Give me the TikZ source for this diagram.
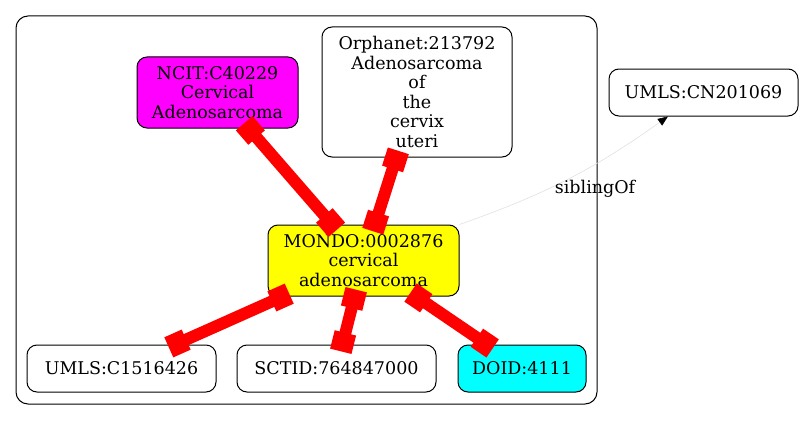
\documentclass[tikz,border=0pt]{standalone}
\usepackage{fontspec}
\setmainfont{DejaVu Serif}
\usepackage{xcolor}
\usepackage{tikz}
\usetikzlibrary{arrows.meta,positioning,calc}

\definecolor{fillmag}{RGB}{255,0,255}
\definecolor{fillyel}{RGB}{255,255,0}
\definecolor{fillcyan}{RGB}{0,255,255}
\definecolor{edgered}{RGB}{255,0,0}

\begin{document}
\begin{tikzpicture}[
    x=1pt, y=-1pt,
    term/.style={draw, line width=1pt, rounded corners=10pt, align=center, inner sep=2pt,
      font=\fontsize{17.5}{19.5}\selectfont},
    xref/.style={{Square[length=19pt,width=22pt]}-{Square[length=19pt,width=22pt]}, edgered,
      line width=12pt, shorten <=-7pt, shorten >=-7pt},
    sib/.style={-{Triangle[length=10pt,width=8pt,color=black,fill=black]}, black!12, line width=0.6pt}
  ]
    \useasboundingbox (0,0) rectangle (805,420);

    % Cluster frame
    \draw[line width=1pt, rounded corners=12pt] (16,16) rectangle (597,404);

    % Terms inside the cluster
    \node[term, fill=fillmag, minimum width=161pt, minimum height=71pt] (ncit) at (217.5,92.5)
      {NCIT:C40229\\Cervical\\Adenosarcoma};
    \node[term, minimum width=190pt, minimum height=130pt] (orph) at (417,92)
      {Orphanet:213792\\Adenosarcoma\\of\\the\\cervix\\uteri};
    \node[term, fill=fillyel, minimum width=191pt, minimum height=71pt] (mondo) at (363.5,260.5)
      {MONDO:0002876\\cervical\\adenosarcoma};
    \node[term, minimum width=189pt, minimum height=47pt] (umls) at (121.5,368.5) {UMLS:C1516426};
    \node[term, minimum width=199pt, minimum height=47pt] (sctid) at (336.5,368.5) {SCTID:764847000};
    \node[term, fill=fillcyan, minimum width=128pt, minimum height=47pt] (doid) at (522,368.5) {DOID:4111};

    % Term outside the cluster
    \node[term, minimum width=189pt, minimum height=47pt] (cn) at (703.5,92.5) {UMLS:CN201069};

    % Equivalence edges
    \draw[xref] (ncit) -- (mondo);
    \draw[xref] (orph) -- (mondo);
    \draw[xref] (mondo) -- (umls);
    \draw[xref] (mondo) -- (sctid);
    \draw[xref] (mondo) -- (doid);

    % Sibling edge
    \draw[sib] (mondo.north east) to[bend right=8] (cn.214);
    \node[font=\fontsize{17.5}{19.5}\selectfont] (siblbl) at (595,189) {siblingOf};
  \end{tikzpicture}
\end{document}
